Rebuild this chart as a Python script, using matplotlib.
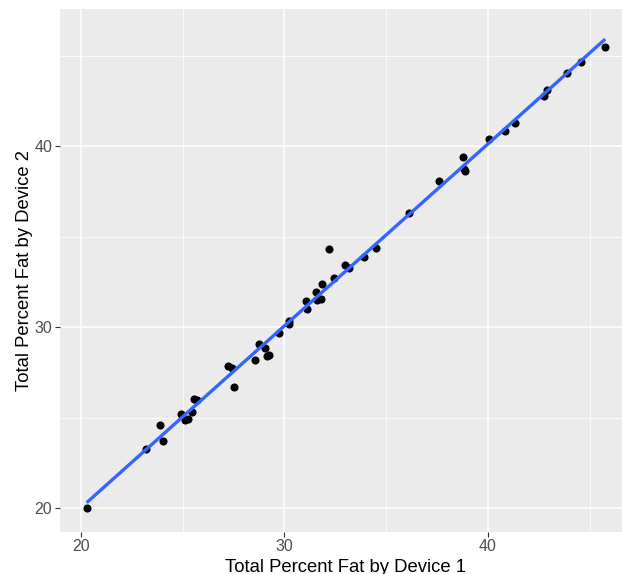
import numpy as np
import matplotlib
matplotlib.use("Agg")
import matplotlib.pyplot as plt
from matplotlib.ticker import MultipleLocator

plt.rcParams['font.family'] = ['Liberation Sans', 'DejaVu Sans']

# body fat readings, device 1 vs device 2
device1 = [20.28, 23.18, 23.90, 24.03, 24.93, 25.13, 25.28, 25.47, 25.54, 25.70,
           27.21, 27.41, 27.53, 28.58, 28.73, 29.04, 29.15, 29.24, 29.72, 30.22,
           30.25, 31.05, 31.10, 31.57, 31.62, 31.79, 31.87, 32.17, 32.44, 32.99,
           33.20, 33.89, 34.51, 36.15, 37.61, 38.77, 38.85, 38.88, 40.05, 40.87,
           41.35, 42.76, 42.91, 43.89, 44.59, 45.77]
device2 = [20.03, 23.26, 24.59, 23.73, 25.23, 24.88, 24.93, 25.32, 26.02, 26.00,
           27.88, 27.73, 26.70, 28.19, 29.09, 28.84, 28.43, 28.45, 29.69, 30.37,
           30.20, 31.45, 31.00, 31.93, 31.51, 31.58, 32.39, 34.34, 32.74, 33.46,
           33.29, 33.87, 34.40, 36.30, 38.08, 39.43, 38.73, 38.64, 40.39, 40.83,
           41.30, 42.78, 43.11, 44.07, 44.67, 45.47]

x = np.array(device1)
y = np.array(device2)

fig = plt.figure(figsize=(6.22, 5.74), dpi=100)
ax = fig.add_axes([60 / 622, 1 - 531.7 / 574, 571 / 622, 522.7 / 574])
ax.set_facecolor('#EBEBEB')

# ggplot-ish grid
ax.xaxis.set_major_locator(MultipleLocator(10))
ax.yaxis.set_major_locator(MultipleLocator(10))
ax.xaxis.set_minor_locator(MultipleLocator(5))
ax.yaxis.set_minor_locator(MultipleLocator(5))
ax.grid(which='major', color='white', lw=1.1)
ax.grid(which='minor', color='white', lw=0.55)
ax.set_axisbelow(True)
for s in ax.spines.values():
    s.set_visible(False)

ax.scatter(x, y, s=34, color='black', zorder=3, linewidths=0)

# least squares line, like geom_smooth(method = "lm", se = FALSE)
slope, icpt = np.polyfit(x, y, 1)
xs = np.array([x.min(), x.max()])
ax.plot(xs, slope * xs + icpt, color='#3366FF', lw=2.4, zorder=4, solid_capstyle='butt')

ax.set_xlim(18.97, 47.04)
ax.set_ylim(18.71, 47.59)

ax.tick_params(which='major', length=3.5, width=0.8, color='#333333',
               labelsize=11.5, labelcolor='#4D4D4D', pad=2)
ax.tick_params(which='minor', length=0)

ax.set_xlabel('Total Percent Fat by Device 1', fontsize=13.3, labelpad=3)
ax.set_ylabel('Total Percent Fat by Device 2', fontsize=13.3, labelpad=1)

fig.savefig('out.png', dpi=100)
